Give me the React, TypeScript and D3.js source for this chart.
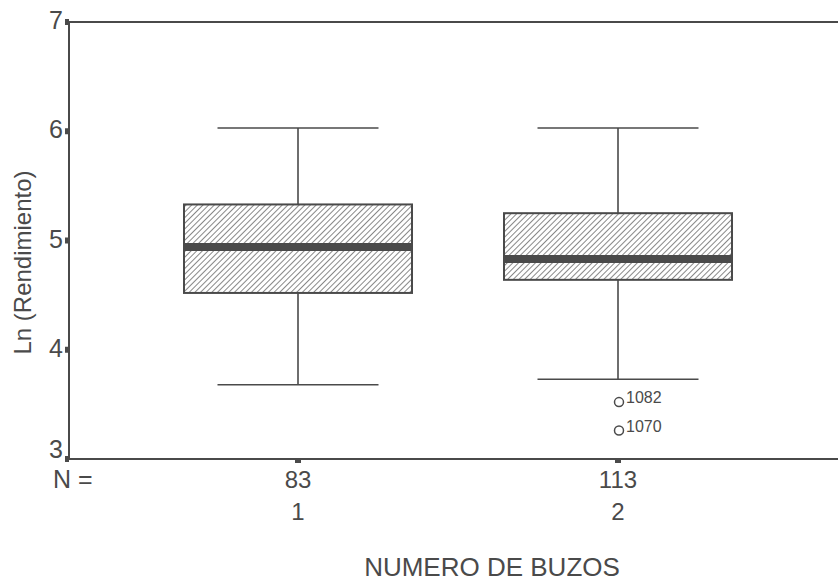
import React from "react";
import * as d3 from "d3";

const categories = ["1", "2"];
const counts = [83, 113];
const whiskerHigh = [6.03, 6.03];
const q3 = [5.33, 5.25];
const median = [4.94, 4.83];
const q1 = [4.52, 4.64];
const whiskerLow = [3.68, 3.73];
const outlierValues = [3.53, 3.27];
const outlierLabels = ["1082", "1070"];
const outlierGroup = [1, 1];
const yTicks = [3, 4, 5, 6, 7];

const W = 838;
const H = 582;
const left = 69;
const top = 22;
const bottom = 459;
const ink = "#4a4a4a";
const font = "Liberation Sans, Arial, sans-serif";

export default function App() {
  const y = d3.scaleLinear().domain([3, 7]).range([bottom, top]);
  const x = d3.scalePoint<string>().domain(categories).range([298, 618]);
  const boxW = 228;
  const capW = 161;

  return (
    <svg width={W} height={H} style={{ position: "absolute", left: 0, top: 0, background: "#fff" }}>
      <defs>
        <pattern id="hatch" patternUnits="userSpaceOnUse" width={4} height={4} patternTransform="rotate(45)">
          <rect width={4} height={4} fill="#fff" />
          <line x1={0} y1={0} x2={0} y2={4} stroke="#555" strokeWidth={1.4} />
        </pattern>
      </defs>
      {/* frame */}
      <line x1={left} x2={W} y1={top} y2={top} stroke={ink} strokeWidth={2} />
      <line x1={left} x2={W} y1={bottom} y2={bottom} stroke={ink} strokeWidth={2} />
      <line x1={left} x2={left} y1={top} y2={bottom} stroke={ink} strokeWidth={2} />
      {yTicks.map((t) => (
        <g key={t}>
          <rect x={left - 4} y={y(t) - 3} width={4} height={6} fill={ink} />
          <text
            x={left - 6}
            y={Math.min(y(t) + 7, bottom - 1)}
            textAnchor="end"
            fontFamily={font}
            fontSize={25}
            fill={ink}
          >
            {t}
          </text>
        </g>
      ))}
      <text
        transform={`translate(31,${(top + bottom) / 2 + 22}) rotate(-90)`}
        textAnchor="middle"
        fontFamily={font}
        fontSize={24}
        fill={ink}
      >
        Ln (Rendimiento)
      </text>
      <text x={53} y={488} fontFamily={font} fontSize={25} fill={ink}>
        N =
      </text>
      {categories.map((c, i) => {
        const cx = x(c)!;
        return (
          <g key={c}>
            <rect x={cx - 3} y={bottom} width={6} height={4} fill={ink} />
            <text x={cx} y={488} textAnchor="middle" fontFamily={font} fontSize={24} fill={ink}>
              {counts[i]}
            </text>
            <text x={cx} y={520} textAnchor="middle" fontFamily={font} fontSize={24} fill={ink}>
              {c}
            </text>
            <line x1={cx} x2={cx} y1={y(whiskerHigh[i])} y2={y(q3[i])} stroke={ink} strokeWidth={1.6} />
            <line x1={cx} x2={cx} y1={y(q1[i])} y2={y(whiskerLow[i])} stroke={ink} strokeWidth={1.6} />
            <line x1={cx - capW / 2} x2={cx + capW / 2} y1={y(whiskerHigh[i])} y2={y(whiskerHigh[i])} stroke={ink} strokeWidth={1.6} />
            <line x1={cx - capW / 2} x2={cx + capW / 2} y1={y(whiskerLow[i])} y2={y(whiskerLow[i])} stroke={ink} strokeWidth={1.6} />
            <rect
              x={cx - boxW / 2}
              y={y(q3[i])}
              width={boxW}
              height={y(q1[i]) - y(q3[i])}
              fill="url(#hatch)"
              stroke={ink}
              strokeWidth={2}
            />
            <line x1={cx - boxW / 2} x2={cx + boxW / 2} y1={y(median[i])} y2={y(median[i])} stroke={ink} strokeWidth={8} />
          </g>
        );
      })}
      {outlierValues.map((v, i) => {
        const cx = x(categories[outlierGroup[i]])!;
        return (
          <g key={i}>
            <ellipse cx={cx + 1} cy={y(v) + 1} rx={4.5} ry={4.5} fill="none" stroke={ink} strokeWidth={1.5} />
            <text x={cx + 8} y={y(v) + 2} fontFamily={font} fontSize={16} fill={ink}>
              {outlierLabels[i]}
            </text>
          </g>
        );
      })}
      <text x={492} y={576} textAnchor="middle" fontFamily={font} fontSize={26} fill={ink}>
        NUMERO DE BUZOS
      </text>
    </svg>
  );
}
